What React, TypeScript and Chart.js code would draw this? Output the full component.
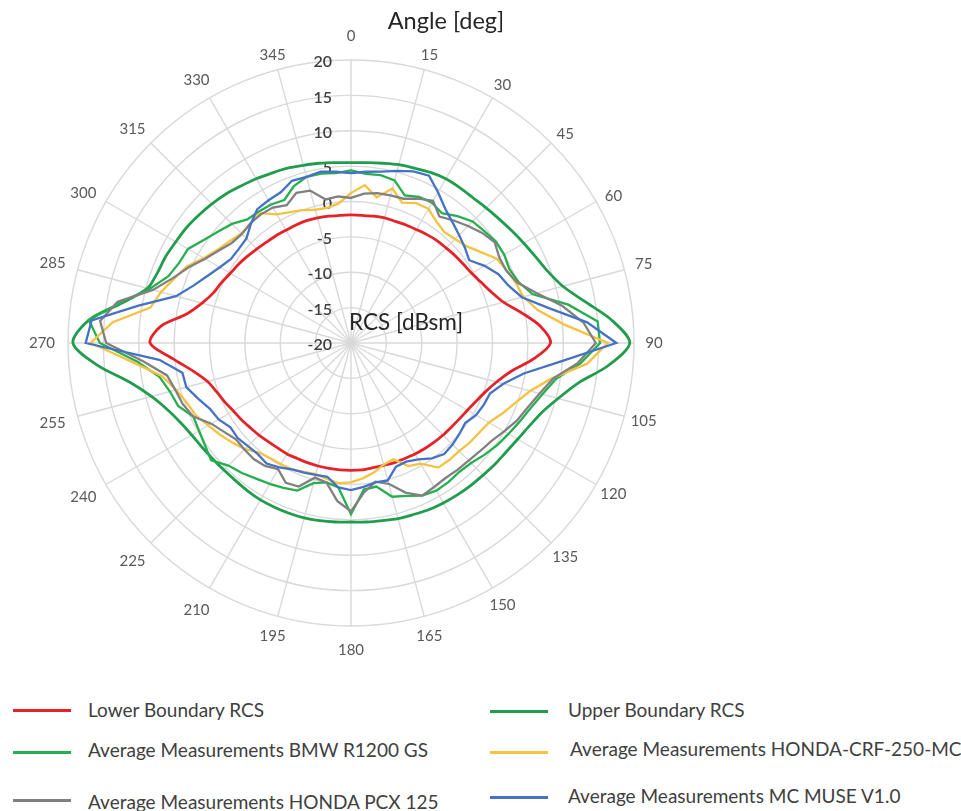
import React, { useEffect, useRef } from 'react';
import { Chart, registerables } from 'chart.js';

Chart.register(...registerables);

// Angle categories (deg), every 5 degrees
const ANGLES = [
  0, 5, 10, 15, 20, 25, 30, 35, 40, 45, 50, 55, 60, 65, 70, 75, 80, 85,
  90, 95, 100, 105, 110, 115, 120, 125, 130, 135, 140, 145, 150, 155, 160, 165, 170, 175,
  180, 185, 190, 195, 200, 205, 210, 215, 220, 225, 230, 235, 240, 245, 250, 255, 260, 265,
  270, 275, 280, 285, 290, 295, 300, 305, 310, 315, 320, 325, 330, 335, 340, 345, 350, 355,
];

// Shown angle tick labels
const ANGLE_TICKS = [0, 15, 30, 45, 60, 75, 90, 105, 120, 135, 150, 165, 180, 195, 210, 225, 240, 255, 270, 285, 300, 315, 330, 345];

// Radial (RCS dBsm) tick labels
const RADIAL_TICKS = [-20, -15, -10, -5, 0, 5, 10, 15, 20];

const LOWER_BOUNDARY = [
  -1.9, -1.9, -1.8, -1.7, -1.7, -1.6, -1.5, -1.3, -1.1, -1.0,
  -0.8, -0.6, -0.3, 0.3, 1.1, 2.3, 4.5, 6.9, 8.2, 5.9,
  3.0, 1.3, 0.2, -0.5, -1.0, -1.3, -1.5, -1.6, -1.7, -1.8,
  -1.9, -2.0, -2.0, -2.1, -2.1, -2.0, -2.0, -2.0, -2.0, -2.0,
  -2.0, -2.0, -1.9, -1.9, -1.8, -1.6, -1.4, -1.1, -0.8, -0.3,
  0.2, 1.0, 2.7, 5.3, 8.4, 7.0, 3.6, 1.8, 0.7, 0.2,
  -0.3, -0.6, -0.9, -1.2, -1.4, -1.5, -1.6, -1.6, -1.6, -1.7,
  -1.8, -1.9,
];

const UPPER_BOUNDARY = [
  5.5, 5.6, 5.8, 6.1, 6.3, 6.6, 6.8, 6.8, 6.8, 7.0,
  7.3, 7.7, 8.2, 8.8, 9.6, 11.0, 13.6, 17.0, 19.4, 16.5,
  12.6, 10.3, 8.7, 7.8, 7.2, 6.8, 6.6, 6.4, 6.3, 6.2,
  6.1, 6.0, 5.8, 5.7, 5.5, 5.4, 5.3, 5.4, 5.5, 5.6,
  5.6, 5.6, 5.6, 5.5, 5.4, 5.4, 5.5, 5.7, 6.0, 6.6,
  7.6, 9.2, 11.8, 16.0, 19.3, 17.2, 12.8, 9.8, 9.1, 8.9,
  8.6, 8.4, 8.1, 7.8, 7.5, 7.1, 6.8, 6.5, 6.3, 6.0,
  5.8, 5.6,
];

const BMW_R1200_GS = [
  4.4, 4.0, 4.1, 3.8, 2.2, 2.8, 2.9, 2.4, 3.4, 4.3,
  4.6, 5.0, 5.0, 4.7, 5.2, 6.6, 11.2, 15.0, 15.2, 12.6,
  9.4, 8.0, 7.0, 6.3, 5.7, 5.2, 4.6, 4.0, 3.8, 4.0,
  4.1, 3.8, 3.0, 2.5, 0.6, 0.8, 4.2, 0.5, 0.0, 0.5,
  2.2, 2.6, 3.0, 3.4, 4.0, 4.5, 5.8, 5.2, 4.8, 4.6,
  6.0, 6.5, 7.5, 10.3, 15.5, 17.2, 13.0, 9.5, 7.5, 6.8,
  6.6, 5.4, 4.5, 3.8, 2.8, 2.7, 2.6, 2.3, 3.6, 4.3,
  4.3, 4.1,
];

const HONDA_CRF_250_MC = [
  1.2, 2.4, 0.9, 2.6, 1.1, 1.8, 1.9, 1.0, 0.5, 0.8,
  1.3, 2.4, 3.8, 4.3, 4.8, 5.2, 6.8, 10.2, 16.3, 13.5,
  8.8, 6.2, 4.7, 3.6, 2.5, 2.1, 1.9, 1.6, 1.6, 1.5,
  -0.3, -0.8, -2.5, -2.2, -1.4, -0.8, -0.3, -0.1, -0.5, -0.8,
  -0.6, -0.3, -0.2, -0.1, 0.2, 1.2, 1.9, 2.6, 3.3, 4.2,
  4.7, 5.6, 7.1, 11.0, 16.8, 13.8, 8.8, 7.8, 6.6, 5.6,
  4.0, 3.0, 2.4, 1.9, 2.1, 2.4, 1.0, 0.4, 0.0, -0.5,
  -0.6, -0.2,
];

const HONDA_PCX_125 = [
  0.5, 1.2, 1.5, 1.6, 1.7, 2.5, 3.2, 1.8, 2.6, 3.4,
  4.2, 4.8, 4.2, 4.2, 5.0, 7.2, 10.3, 13.0, 14.6, 12.2,
  9.0, 7.6, 6.6, 5.9, 5.0, 4.2, 3.8, 3.5, 3.4, 3.3,
  3.5, 3.8, 2.5, 0.6, -0.1, 1.2, 3.8, 2.4, 0.0, -0.3,
  1.6, 1.8, 0.6, 1.2, 1.4, 1.3, 1.2, 1.9, 2.8, 4.6,
  5.3, 5.7, 6.4, 9.5, 14.6, 15.6, 13.5, 9.0, 6.8, 5.3,
  3.8, 2.8, 2.0, 1.8, 2.1, 2.2, 2.1, 1.5, 2.6, 2.3,
  0.6, 0.8,
];

const MC_MUSE_V1 = [
  4.0, 4.3, 4.6, 5.2, 5.8, 6.1, 4.6, 3.2, 2.3, 1.6,
  1.0, 0.4, 1.8, 3.0, 3.7, 5.0, 8.4, 13.5, 17.5, 9.8,
  4.8, 2.3, 0.9, 0.7, 0.4, -0.3, 0.0, 0.3, 0.5, -0.1,
  -1.0, -1.5, -1.4, 0.1, 0.0, 0.4, 0.8, 0.5, -0.8, -0.7,
  -0.5, -0.3, 0.3, 0.8, 0.5, 0.6, 0.9, 0.8, 1.6, 2.0,
  3.0, 4.1, 4.2, 7.2, 17.5, 16.8, 10.5, 5.6, 3.7, 2.4,
  1.4, 0.7, 0.7, 0.9, 2.0, 3.1, 3.3, 3.5, 4.4, 4.3,
  4.6, 4.3,
];

const SERIES_NAMES = [
  'Lower Boundary RCS',
  'Upper Boundary RCS',
  'Average Measurements BMW R1200 GS',
  'Average Measurements HONDA-CRF-250-MC',
  'Average Measurements HONDA PCX 125',
  'Average Measurements MC MUSE V1.0',
];

const SERIES_VALUES = [LOWER_BOUNDARY, UPPER_BOUNDARY, BMW_R1200_GS, HONDA_CRF_250_MC, HONDA_PCX_125, MC_MUSE_V1];

const SERIES_COLORS = ['#e52228', '#1f9d4c', '#27ae4f', '#f5c242', '#808080', '#4472c4'];

const FONT = 'Lato, "Open Sans", sans-serif';

export default function App() {
  const canvasRef = useRef<HTMLCanvasElement | null>(null);

  useEffect(() => {
    document.body.style.margin = '0';
    document.body.style.overflow = 'hidden';
    const canvas = canvasRef.current;
    if (!canvas) return;

    const labelsPlugin = {
      id: 'customLabels',
      beforeDatasetsDraw(chart: any) {
        const scale = chart.scales.r;
        const ctx = chart.ctx;
        ctx.save();
        ctx.font = `600 16px ${FONT}`;
        ctx.fillStyle = '#404040';
        ctx.textAlign = 'right';
        ctx.textBaseline = 'middle';
        RADIAL_TICKS.forEach((v) => {
          const d = scale.getDistanceFromCenterForValue(v);
          ctx.fillText(String(v), scale.xCenter - 19, scale.yCenter - d + 2);
        });
        ctx.restore();
      },
      afterDraw(chart: any) {
        const scale = chart.scales.r;
        const ctx = chart.ctx;
        ctx.save();
        ctx.font = `15px ${FONT}`;
        ctx.fillStyle = '#595959';
        ctx.textAlign = 'center';
        ctx.textBaseline = 'middle';
        ANGLE_TICKS.forEach((a) => {
          const t = (a * Math.PI) / 180;
          const s = Math.sin(t);
          const c = Math.cos(t);
          const rr = 303 + (s < -0.3 ? 6 : 0) + (Math.abs(c) > 0.99 ? 4 : 0);
          const x = scale.xCenter + rr * s;
          const y = scale.yCenter - rr * c + (c > 0.3 && c < 0.99 ? 5 : 0);
          ctx.fillText(String(a), x, y);
        });
        ctx.fillStyle = '#262626';
        ctx.font = `23.5px ${FONT}`;
        ctx.textAlign = 'center';
        ctx.fillText('Angle [deg]', 446, 21);
        ctx.font = `22.5px ${FONT}`;
        ctx.textAlign = 'left';
        ctx.fillText('RCS [dBsm]', 349, 323);
        ctx.restore();
      },
    };

    const datasets = SERIES_NAMES.map((name, i) => ({
      label: name,
      data: SERIES_VALUES[i],
      borderColor: SERIES_COLORS[i],
      backgroundColor: SERIES_COLORS[i],
      borderWidth: i < 2 ? 2.8 : 2.3,
      pointRadius: 0,
      pointHoverRadius: 0,
      fill: false,
      tension: i < 2 ? 0.3 : 0,
      order: 10 - i,
    }));

    const chart = new Chart(canvas, {
      type: 'radar',
      data: { labels: ANGLES.map(String), datasets },
      options: {
        animation: false,
        responsive: false,
        maintainAspectRatio: false,
        layout: { padding: { left: 68, top: 60, right: 961 - 68 - 566, bottom: 680 - 60 - 566 } },
        plugins: { legend: { display: false }, tooltip: { enabled: false } },
        scales: {
          r: {
            min: -20,
            max: 20,
            ticks: { stepSize: 5, display: false },
            pointLabels: { display: false },
            grid: { circular: true, color: '#d9d9d9', lineWidth: 1.4 },
            angleLines: {
              display: true,
              color: (c: any) => (c.index % 3 === 0 ? '#d9d9d9' : 'rgba(0,0,0,0)'),
              lineWidth: (c: any) => (c.index % 3 === 0 ? 1.4 : 0),
            },
          },
        },
      },
      plugins: [labelsPlugin],
    } as any);

    return () => chart.destroy();
  }, []);

  const legendLayout = [
    { lx: 13, ly: 710, tx: 88, ty: 710 },
    { lx: 490, ly: 711, tx: 568, ty: 710 },
    { lx: 13, ly: 752, tx: 88, ty: 750 },
    { lx: 490, ly: 752, tx: 570, ty: 749 },
    { lx: 13, ly: 800, tx: 88, ty: 802 },
    { lx: 490, ly: 797, tx: 568, ty: 796 },
  ];

  return (
    <div style={{ position: 'relative', width: 961, height: 811, overflow: 'hidden', background: '#fff' }}>
      <canvas ref={canvasRef} width={961} height={680} style={{ display: 'block', width: 961, height: 680 }} />
      {SERIES_NAMES.map((name, i) => (
        <React.Fragment key={name}>
          <div
            style={{
              position: 'absolute',
              left: legendLayout[i].lx,
              top: legendLayout[i].ly - 1.5,
              width: 58,
              height: 3,
              background: SERIES_COLORS[i],
            }}
          />
          <div
            style={{
              position: 'absolute',
              left: legendLayout[i].tx,
              top: legendLayout[i].ty - 12,
              height: 24,
              lineHeight: '24px',
              fontFamily: FONT,
              fontSize: 19,
              color: '#404040',
              whiteSpace: 'nowrap',
            }}
          >
            {name}
          </div>
        </React.Fragment>
      ))}
    </div>
  );
}
